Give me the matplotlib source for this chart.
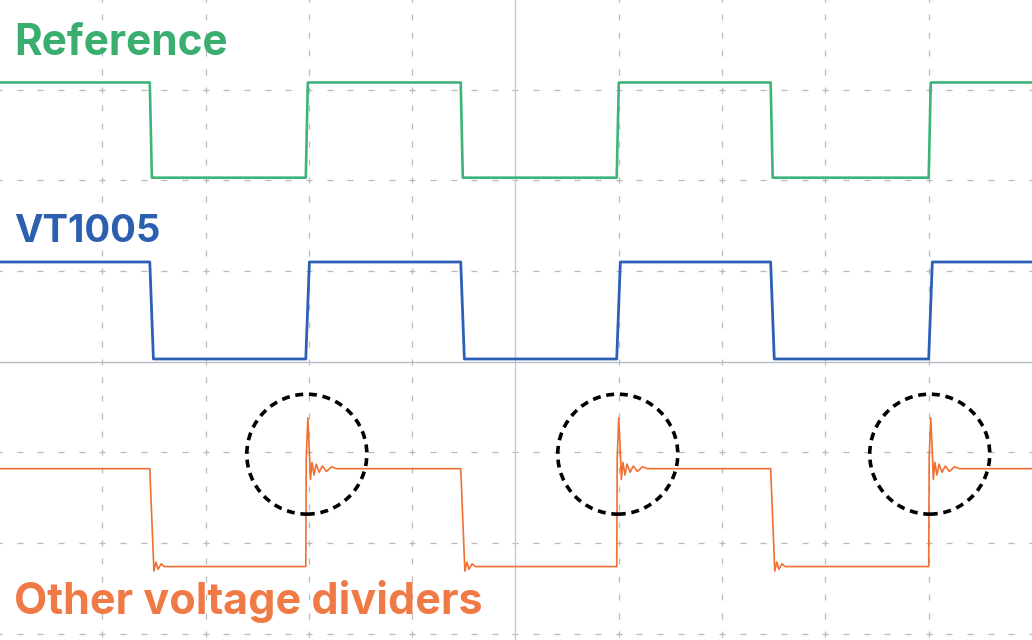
import numpy as np
import matplotlib.pyplot as plt
from matplotlib.patches import Ellipse

# screen in scope divisions, 0 = centre of the screen
x_lim = (-4.99, 5.0)
y_lim = (-3.07, 3.99)

# edge times (div)
fall_t = [-3.54, -0.53, 2.47]
rise_t = [-2.03, 0.98, 4.00]

# levels (div)
ref_hi, ref_lo = 3.08, 2.03
vt_hi, vt_lo = 1.10, 0.03
oth_hi, oth_lo = -1.18, -2.26

# overshoot / ringing of the other dividers after a rising edge
spike_dt = [0.0, 0.005, 0.02, 0.035, 0.045, 0.06, 0.08, 0.10, 0.13, 0.16, 0.20, 0.25, 0.30]
spike_v = [-2.26, -1.05, -0.62, -1.00, -1.30, -1.11, -1.25, -1.13, -1.22, -1.15, -1.21, -1.16, -1.18]
# undershoot after a falling edge
under_dt = [0.0, 0.04, 0.06, 0.08, 0.11, 0.14]
under_v = [-1.18, -2.31, -2.21, -2.29, -2.23, -2.26]

labels = ["Reference", "VT1005", "Other voltage dividers"]
label_size = [30.5, 27.5, 31]
colors = ["#3aae6e", "#2b5fb0", "#f07a45"]
line_colors = ["#3db57a", "#2d5fb6", "#f07034"]


def square(hi, lo, edge=0.025):
    xs, ys = [x_lim[0]], [hi]
    for t in sorted(fall_t + rise_t):
        if t in fall_t:
            xs += [t, t + edge]
            ys += [hi, lo]
        else:
            xs += [t, t + edge]
            ys += [lo, hi]
    xs.append(x_lim[1])
    ys.append(hi)
    return xs, ys


def ringing():
    xs, ys = [x_lim[0]], [oth_hi]
    for t in sorted(fall_t + rise_t):
        if t in fall_t:
            xs += [t + d for d in under_dt]
            ys += under_v
        else:
            xs += [t + d for d in spike_dt]
            ys += spike_v
    xs.append(x_lim[1])
    ys.append(oth_hi)
    return xs, ys


fig = plt.figure(figsize=(10.32, 6.4), dpi=100)
ax = fig.add_axes([0, 0, 1, 1])
ax.set_xlim(*x_lim)
ax.set_ylim(*y_lim)
ax.axis('off')

# graticule: dashed lines made of small ticks, solid centre lines
grid_c = "#b9b9b9"
ys_tick = np.arange(-3.2, 4.01, 0.2)
xs_tick = np.arange(-5.0, 5.01, 0.2)
for k in range(-4, 5):
    if k == 0:
        continue
    ax.plot([k] * len(ys_tick), ys_tick, ls='none', marker='|', ms=5, mew=0.9, color=grid_c, zorder=1)
for j in range(-3, 4):
    if j == 0:
        continue
    ax.plot(xs_tick, [j] * len(xs_tick), ls='none', marker='_', ms=5, mew=0.9, color=grid_c, zorder=1)
ax.axvline(0, color="#c6cad3", lw=1.0, zorder=1)
ax.axhline(0, color="#b8bcc6", lw=1.0, zorder=1)

x, y = square(ref_hi, ref_lo, 0.02)
ax.plot(x, y, color=line_colors[0], lw=1.9, zorder=3)
x, y = square(vt_hi, vt_lo, 0.035)
ax.plot(x, y, color=line_colors[1], lw=2.0, zorder=3)
x, y = ringing()
ax.plot(x, y, color=line_colors[2], lw=1.2, zorder=3)

# dashed circles around the overshoots
for t in rise_t:
    ax.add_patch(Ellipse((t + 0.01, -1.02), 1.162, 1.323, fill=False, ec='black',
                         lw=2.6, ls=(0, (2.2, 1.6)), zorder=4))

# channel labels
for lab, col, base, fs in zip(labels, colors, [55, 242, 614], label_size):
    fig.text(14 / 1032, 1 - base / 640, lab, color=col, fontsize=fs,
             fontweight='bold', family=['Inter', 'Liberation Sans', 'DejaVu Sans'],
             va='baseline', ha='left')

fig.savefig("out.png", dpi=100)
